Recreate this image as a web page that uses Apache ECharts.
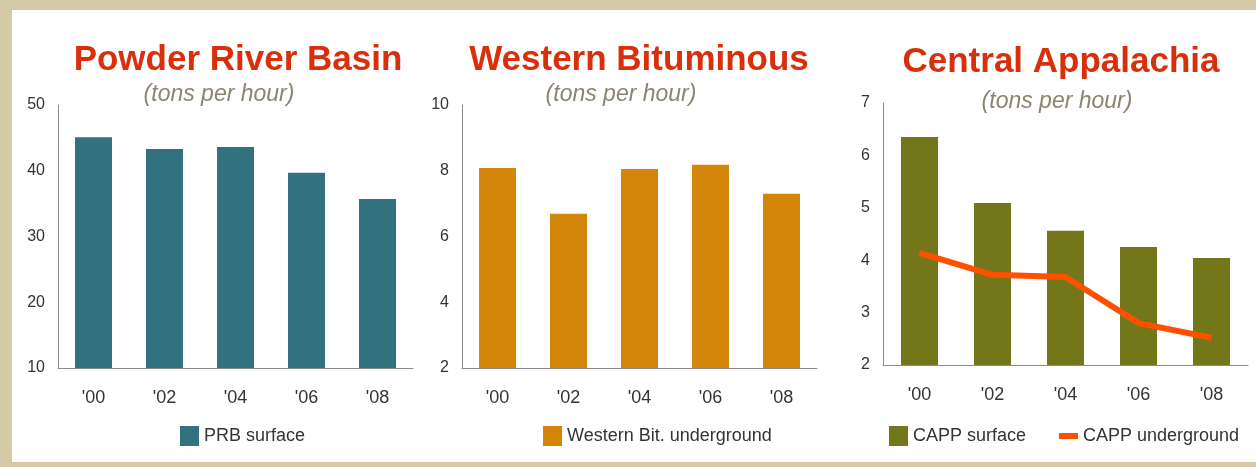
<!DOCTYPE html>
<html>
<head>
<meta charset="utf-8">
<script src="https://cdn.jsdelivr.net/npm/echarts@6/dist/echarts.min.js"></script>
<style>
  html, body { margin: 0; padding: 0; background: #fff; }
  #main { width: 1256px; height: 467px; }
</style>
</head>
<body>
<div id="main"></div>
<script>
// 数据
let years = ["'00", "'02", "'04", "'06", "'08"];
let prbSurface = [45.1, 43.3, 43.6, 39.7, 35.7];
let westernUnderground = [8.08, 6.69, 8.05, 8.18, 7.3];
let cappSurface = [6.35, 5.09, 4.56, 4.25, 4.04];
let cappUnderground = [4.14, 3.72, 3.68, 2.8, 2.52];

// 各图的y轴刻度
let prbTicks = { min: 10, max: 50, interval: 10 };
let westTicks = { min: 2, max: 10, interval: 2 };
let cappTicks = { min: 2, max: 7, interval: 1 };

let font = "Liberation Sans, Arial, sans-serif";
let frameColor = "#d4caa6";

let myChart = echarts.init(document.getElementById("main"));

function makeX(gridIndex) {
  return {
    type: "category",
    gridIndex: gridIndex,
    data: years,
    axisTick: { show: false },
    axisLine: { lineStyle: { color: "#8c8c8c", width: 1 } },
    axisLabel: { color: "#333", fontSize: 18, fontFamily: font, margin: 21 },
  };
}
function makeY(gridIndex, t) {
  return {
    type: "value",
    gridIndex: gridIndex,
    min: t.min,
    max: t.max,
    interval: t.interval,
    splitLine: { show: false },
    axisTick: { show: false },
    axisLine: { show: true, lineStyle: { color: "#8c8c8c", width: 1 } },
    axisLabel: { color: "#333", fontSize: 16, fontFamily: font, margin: 13 },
  };
}
function makeTitle(text, x, y, sub) {
  return {
    text: text,
    left: x,
    top: y,
    textAlign: "center",
    padding: 0,
    textStyle: sub
      ? { color: "#8b8570", fontSize: 23, fontStyle: "italic", fontWeight: "normal", fontFamily: font }
      : { color: "#d9300b", fontSize: 35, fontWeight: "bold", fontFamily: font },
  };
}
let legendText = { color: "#333", fontSize: 18, fontFamily: font };

function makeLegend(x, y, name, h) {
  return {
    left: x, top: y, itemWidth: 19, itemHeight: h,
    data: [{ name: name, icon: "rect" }],
    textStyle: legendText,
  };
}

let option = {
  animation: false,
  title: [
    makeTitle("Powder River Basin", 238, 43),
    makeTitle("(tons per hour)", 219, 83, true),
    makeTitle("Western Bituminous", 639, 43),
    makeTitle("(tons per hour)", 621, 83, true),
    makeTitle("Central Appalachia", 1061, 45),
    makeTitle("(tons per hour)", 1057, 90, true),
  ],
  graphic: [
    // 外框
    { type: "rect", left: 0, top: 0, shape: { width: 1256, height: 10 }, style: { fill: frameColor } },
    { type: "rect", left: 0, top: 0, shape: { width: 12, height: 467 }, style: { fill: frameColor } },
    { type: "rect", left: 0, top: 462, shape: { width: 1256, height: 5 }, style: { fill: frameColor } },
  ],
  grid: [
    { left: 58, top: 105, width: 355, height: 263 },
    { left: 462, top: 105, width: 355, height: 263 },
    { left: 883, top: 103, width: 365, height: 262 },
  ],
  xAxis: [makeX(0), makeX(1), makeX(2)],
  yAxis: [makeY(0, prbTicks), makeY(1, westTicks), makeY(2, cappTicks)],
  legend: [
    makeLegend(175, 421, "PRB surface", 20),
    makeLegend(538, 421, "Western Bit. underground", 20),
    makeLegend(884, 421, "CAPP surface", 20),
    makeLegend(1054, 422, "CAPP underground", 6),
  ],
  series: [
    {
      name: "PRB surface", type: "bar", xAxisIndex: 0, yAxisIndex: 0,
      barWidth: 37, data: prbSurface, itemStyle: { color: "#32727f" },
    },
    {
      name: "Western Bit. underground", type: "bar", xAxisIndex: 1, yAxisIndex: 1,
      barWidth: 37, data: westernUnderground, itemStyle: { color: "#d4860a" },
    },
    {
      name: "CAPP surface", type: "bar", xAxisIndex: 2, yAxisIndex: 2,
      barWidth: 37, data: cappSurface, itemStyle: { color: "#737619" },
    },
    {
      name: "CAPP underground", type: "line", xAxisIndex: 2, yAxisIndex: 2,
      data: cappUnderground, symbol: "none",
      lineStyle: { color: "#ff5000", width: 6 },
      itemStyle: { color: "#ff5000" },
    },
  ],
};
myChart.setOption(option);
</script>
</body>
</html>
